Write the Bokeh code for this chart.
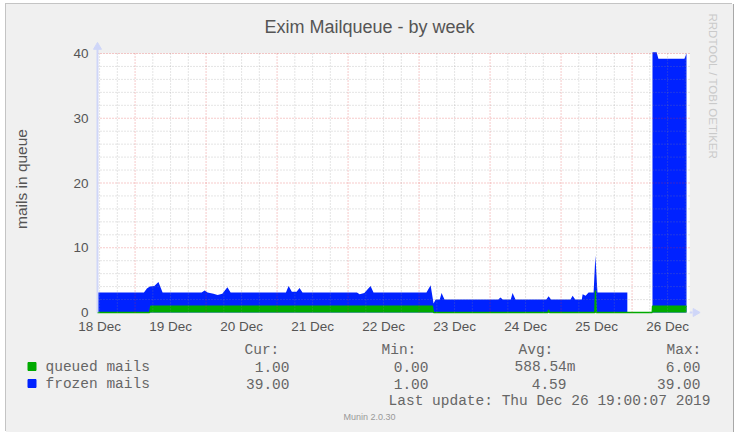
import math
from bokeh.plotting import figure
from bokeh.layouts import column
from bokeh.models import Range1d, FixedTicker, Label, Title
from bokeh.embed import file_html
from bokeh.resources import INLINE

NaN = float("nan")

# ---------------- data (x = hours since 18 Dec 2019 00:00) ----------------
frozen_hours = [11.3, 27.0, 28.0, 29.0, 30.5, 31.9, 33.3, 46.5, 47.5, 48.5, 50.5, 51.9, 53.5, 55.2, 56.3,
                75.0, 75.9, 77.0, 78.6, 79.6, 80.6, 99.0, 99.9, 101.5, 103.6, 104.6, 122.5, 123.9, 124.9,
                125.6, 127.0, 127.6, 128.6, 146.8, 147.5, 148.3, 151.0, 151.6, 152.6, 163.0, 163.8, 164.6,
                171.2, 171.9, 172.8, 175.0, 175.3, 176.3, 177.3, 179.0, 179.6, 180.3, 190.4, 194.0,
                198.9, 200.3, 200.9, 209.7, 210.4]
frozen_mails = [3.1, 3.1, 3.7, 4.0, 4.1, 4.7, 3.1, 3.1, 3.4, 3.1, 2.9, 2.7, 2.9, 3.9, 3.1,
                3.1, 4.1, 3.2, 3.2, 3.8, 3.1, 3.1, 2.8, 3.0, 4.1, 3.1, 3.1, 4.2, 1.4,
                2.0, 2.0, 3.0, 2.0, 2.0, 2.3, 2.0, 2.0, 3.0, 2.0, 2.0, 2.5, 2.0,
                2.0, 2.6, 2.0, 2.0, 2.8, 2.6, 3.1, 3.1, 8.8, 3.1, 3.1, NaN,
                40.2, 40.2, 39.2, 39.2, 40.0]

queued_hours = [11.3, 28.9, 29.3, 124.5, 124.9, 163.5, 163.8, 164.1, 179.4, 179.6, 179.9, 198.8, 198.9, 210.4]
queued_mails = [0.0, 0.0, 1.0, 1.0, 0.0, 0.0, 0.4, 0.0, 0.0, 3.4, 0.0, 0.0, 1.0, 1.0]

day_tick_hours = [12, 36, 60, 84, 108, 132, 156, 180, 204]
day_tick_labels = ["18 Dec", "19 Dec", "20 Dec", "21 Dec", "22 Dec", "23 Dec", "24 Dec", "25 Dec", "26 Dec"]
y_ticks = [0, 10, 20, 30, 40]

legend_names = ["queued mails", "frozen mails"]
legend_colors = ["#00AA00", "#0022FF"]
legend_cur = ["1.00", "39.00"]
legend_min = ["0.00", "1.00"]
legend_avg = ["588.54m", "4.59"]
legend_max = ["6.00", "39.00"]
last_update = "Last update: Thu Dec 26 19:00:07 2019"

# ---------------- geometry (page pixels) ----------------
OX, OY = 6, 4                      # top-left of the whole graphic on the page
W = 727
H_MAIN, H_LEG = 337, 91
X0, X_END = 11.3, 211.5            # visible time span (hours)
Y_TOP = 40
PX_X0, PX_Y0 = 97, 312             # page pixel of (X0, 0)
SX = 71.0 / 24.0                   # px per hour
SY = 6.475                         # px per mail
FL, FR, FT, FB = 92, 702, 40, 317  # frame edges on the page


def hx(px):
    return X0 + (px - PX_X0) / SX


def vy(py):
    return (PX_Y0 - py) / SY


TXT = "#555555"
SANS = "Liberation Sans"
MONO = "Liberation Mono"
BG = "#f0f0f0"

p = figure(width=W, height=H_MAIN, output_backend="svg", toolbar_location=None,
           x_range=Range1d(hx(FL), hx(FR)), y_range=Range1d(vy(FB), vy(FT)),
           min_border_left=FL - OX, min_border_right=OX + W - FR,
           min_border_top=FT - OY, min_border_bottom=OY + H_MAIN - FB,
           background_fill_color=BG, border_fill_color=BG, outline_line_color=None)
p.title.text = "Exim Mailqueue - by week"
p.title.align = "left"
p.title.offset = 264 - FL
p.title.standoff = 8
p.title.text_font = SANS
p.title.text_font_size = "18px"
p.title.text_font_style = "normal"
p.title.text_color = TXT
p.xgrid.visible = False
p.ygrid.visible = False

# canvas (white plotting area)
p.quad(left=X0, right=X_END, bottom=0, top=Y_TOP, fill_color="white", line_color=None)


def split_nan(xs, ys):
    segs, cx, cy = [], [], []
    for x, y in zip(xs, ys):
        if y != y:
            if cx:
                segs.append((cx, cy))
            cx, cy = [], []
        else:
            cx.append(x)
            cy.append(y)
    if cx:
        segs.append((cx, cy))
    return segs


for sx_, sy_ in split_nan(frozen_hours, frozen_mails):
    p.varea(x=sx_, y1=[0] * len(sx_), y2=sy_, fill_color=legend_colors[1])

p.varea(x=queued_hours, y1=[0] * len(queued_hours), y2=queued_mails, fill_color=legend_colors[0])
p.line(x=queued_hours, y=queued_mails, line_color=legend_colors[0], line_width=1.3)

# grid (drawn on top, rrdtool style)
minor_x = [h for h in range(12, 211, 6) if h % 24 != 0]
major_x = [h for h in range(24, 211, 24)]
minor_y = [v for v in range(2, 40, 2) if v % 10 != 0]
major_y = [10, 20, 30, 40]
GRID = dict(line_color="#8c8c8c", line_alpha=0.45, line_dash="1 2", line_width=1)
MGRID = dict(line_color="#e03030", line_alpha=0.5, line_dash="1 2", line_width=1)
p.segment(x0=minor_x, y0=[0] * len(minor_x), x1=minor_x, y1=[Y_TOP] * len(minor_x), **GRID)
p.segment(x0=[X0] * len(minor_y), y0=minor_y, x1=[X_END] * len(minor_y), y1=minor_y, **GRID)
p.segment(x0=major_x, y0=[0] * len(major_x), x1=major_x, y1=[Y_TOP] * len(major_x), **MGRID)
p.segment(x0=[X0] * len(major_y), y0=major_y, x1=[X_END] * len(major_y), y1=major_y, **MGRID)

# axis lines and arrows
AXIS = "#CFD6F8"
p.segment(x0=[X0], y0=[0], x1=[X0], y1=[vy(48)], line_color=AXIS, line_width=2)
p.segment(x0=[X_END], y0=[0], x1=[hx(692)], y1=[0], line_color=AXIS, line_width=2)
p.scatter(x=[X0], y=[vy(46.5)], marker="triangle", size=8, fill_color=AXIS, line_color=AXIS)
p.scatter(x=[hx(695)], y=[0], marker="triangle", size=8, angle=-math.pi / 2,
          fill_color=AXIS, line_color=AXIS)

p.xaxis.ticker = FixedTicker(ticks=day_tick_hours)
p.xaxis.major_label_overrides = {h: lab for h, lab in zip(day_tick_hours, day_tick_labels)}
p.yaxis.ticker = FixedTicker(ticks=y_ticks)
for ax in (p.xaxis, p.yaxis):
    ax.axis_line_color = None
    ax.major_tick_line_color = None
    ax.minor_tick_line_color = None
    ax.major_tick_out = 0
    ax.major_tick_in = 0
    ax.major_label_text_font = SANS
    ax.major_label_text_font_size = "13.5px"
    ax.major_label_text_color = TXT
p.xaxis.major_label_standoff = 1
p.yaxis.major_label_standoff = 4
p.yaxis.axis_label = "mails in queue"
p.yaxis.axis_label_text_font = SANS
p.yaxis.axis_label_text_font_size = "15.5px"
p.yaxis.axis_label_text_font_style = "normal"
p.yaxis.axis_label_text_color = TXT
p.yaxis.axis_label_standoff = 40

p.add_layout(Title(text="RRDTOOL / TOBI OETIKER", align="left", offset=13 - FT, standoff=9,
                   text_font=SANS, text_font_size="11.5px", text_font_style="normal",
                   text_color="#cacaca"), "right")

# ---------------- legend strip (own canvas, px coordinates, y downward) ----------------
LY0 = OY + H_MAIN
q = figure(width=W, height=H_LEG, output_backend="svg", toolbar_location=None,
           x_range=Range1d(0, W), y_range=Range1d(H_LEG, 0),
           x_axis_location=None, y_axis_location=None,
           min_border=0, min_border_left=0, min_border_right=0,
           min_border_top=0, min_border_bottom=0,
           background_fill_color=BG, border_fill_color=BG, outline_line_color=None)
q.xgrid.visible = False
q.ygrid.visible = False
for fig in (p, q):
    if "frame_align" in fig.properties():
        fig.frame_align = False

LS = "14.5px"
LC = "#666666"


def leg(px, py, text, align="left", font=MONO, size=LS, color=LC):
    q.add_layout(Label(x=px - OX, y=py - LY0, text=text, text_align=align, text_baseline="middle",
                       text_font=font, text_font_size=size, text_color=color))


leg(244, 349, "Cur:")
leg(381, 349, "Min:")
leg(518, 349, "Avg:")
leg(666, 349, "Max:")
rows_y = [366, 383]
avg_right = [575, 566]
q.rect(x=[31.5 - OX] * 2, y=[r - LY0 for r in rows_y], width=8, height=8,
       width_units="screen", height_units="screen",
       fill_color=legend_colors, line_color=legend_colors)
for i, yrow in enumerate(rows_y):
    leg(45, yrow, legend_names[i])
    leg(289, yrow, legend_cur[i], align="right")
    leg(428, yrow, legend_min[i], align="right")
    leg(avg_right[i], yrow, legend_avg[i], align="right")
    leg(700, yrow, legend_max[i], align="right")
leg(710, 400, last_update, align="right")
leg(369, 416, "Munin 2.0.30", align="center", font=SANS, size="9px", color="#999999")

layout = column(p, q, spacing=0, margin=(OY, 0, 0, OX),
                styles={"box-shadow": "-1px -1px 0 0 #c4c4c4, 1px 0 0 0 #a8a8a8",
                        "background-color": BG})

open("out.html", "w").write(file_html(layout, INLINE))
